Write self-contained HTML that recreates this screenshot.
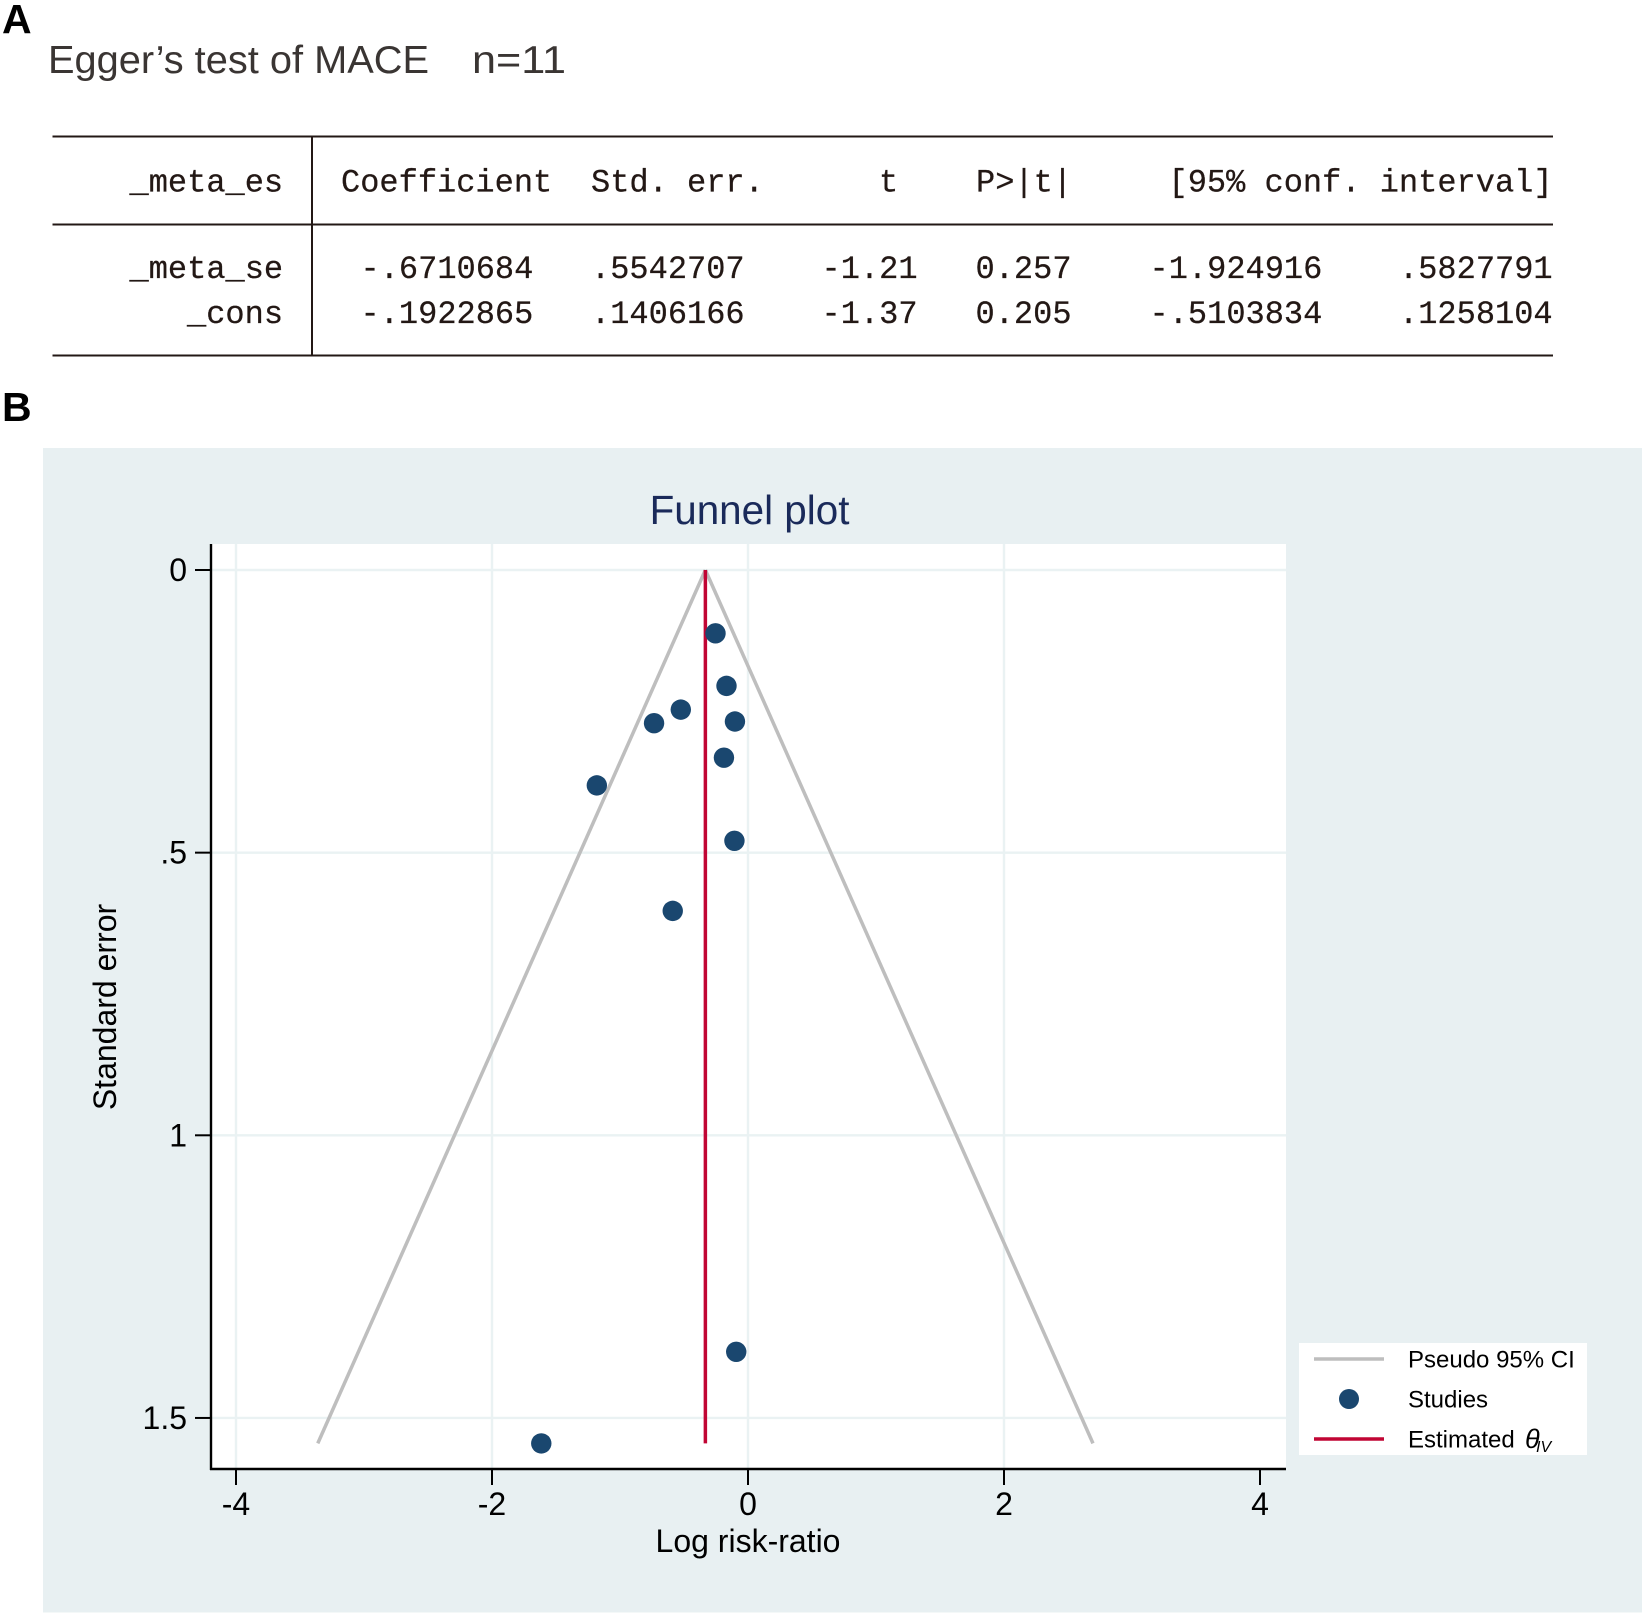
<!DOCTYPE html>
<html lang="en">
<head>
<meta charset="utf-8">
<title>Egger's test and funnel plot</title>
<style>
html,body{margin:0;padding:0;background:#fff;width:1646px;height:1616px;overflow:hidden}
svg{display:block}
.sans{font-family:"Liberation Sans",sans-serif}
.mono{font-family:"Liberation Mono",monospace;font-size:32px;fill:#231815;stroke:#231815;stroke-width:0.25}
</style>
</head>
<body>
<svg id="figure" xmlns="http://www.w3.org/2000/svg" width="1646" height="1616" viewBox="0 0 1646 1616">
  <rect x="0" y="0" width="1646" height="1616" fill="#ffffff"/>
  <text class="sans" x="2" y="33" font-size="41" font-weight="700" fill="#000">A</text>
  <text class="sans" x="48" y="73" font-size="39" fill="#3a3533" textLength="381" lengthAdjust="spacingAndGlyphs">Egger’s test of MACE</text>
  <text class="sans" x="472" y="73" font-size="39" fill="#3a3533" textLength="94" lengthAdjust="spacingAndGlyphs">n=11</text>

  <g stroke="#231815" stroke-width="2">
    <line x1="52.5" y1="136.5" x2="1553" y2="136.5"/>
    <line x1="52.5" y1="224.5" x2="1553" y2="224.5"/>
    <line x1="52.5" y1="355.5" x2="1553" y2="355.5"/>
    <line x1="312" y1="136" x2="312" y2="355"/>
  </g>
  <g class="mono">
    <text x="129.5" y="191.5">_meta_es</text>
    <text x="341" y="191.5">Coefficient</text>
    <text x="591" y="191.5">Std. err.</text>
    <text x="879" y="191.5">t</text>
    <text x="976" y="191.5">P&gt;|t|</text>
    <text x="1168.5" y="191.5">[95% conf. interval]</text>

    <text x="129.5" y="278">_meta_se</text>
    <text x="360.5" y="278">-.6710684</text>
    <text x="591" y="278">.5542707</text>
    <text x="821.5" y="278">-1.21</text>
    <text x="975.5" y="278">0.257</text>
    <text x="1149.5" y="278">-1.924916</text>
    <text x="1399" y="278">.5827791</text>

    <text x="187" y="323">_cons</text>
    <text x="360.5" y="323">-.1922865</text>
    <text x="591" y="323">.1406166</text>
    <text x="821.5" y="323">-1.37</text>
    <text x="975.5" y="323">0.205</text>
    <text x="1149.5" y="323">-.5103834</text>
    <text x="1399" y="323">.1258104</text>
  </g>

  <text class="sans" x="2" y="421" font-size="41" font-weight="700" fill="#000">B</text>

  <rect x="43" y="448" width="1599" height="1164.5" fill="#e8f0f2"/>
  <rect x="211" y="544" width="1075" height="925" fill="#ffffff"/>
  <text class="sans" x="749.5" y="524" font-size="40.4" fill="#1a2a5a" text-anchor="middle">Funnel plot</text>

  <g id="grid"></g>
  <g id="funnel"></g>
  <g id="points"></g>
  <g id="axes">
    <line x1="211" y1="544" x2="211" y2="1470" stroke="#000" stroke-width="2.4"/>
    <line x1="210" y1="1469" x2="1286" y2="1469" stroke="#000" stroke-width="2.4"/>
  </g>
  <text class="sans" x="748" y="1552" font-size="32" fill="#000" text-anchor="middle">Log risk-ratio</text>
  <text class="sans" transform="translate(116 1007) rotate(-90)" font-size="32" fill="#000" text-anchor="middle">Standard error</text>

  <g>
    <rect x="1299" y="1343" width="288" height="112" fill="#ffffff"/>
    <line x1="1314" y1="1359" x2="1384" y2="1359" stroke="#bebebe" stroke-width="3.5"/>
    <text class="sans" x="1408" y="1367.5" font-size="24" fill="#000">Pseudo 95% CI</text>
    <circle cx="1349" cy="1399" r="10" fill="#1a476f"/>
    <text class="sans" x="1408" y="1407.5" font-size="24" fill="#000">Studies</text>
    <line x1="1314" y1="1439" x2="1384" y2="1439" stroke="#c10534" stroke-width="3.5"/>
    <text class="sans" x="1408" y="1447.5" font-size="24" fill="#000">Estimated</text>
    <text class="sans" font-style="italic" x="1525" y="1448" font-size="27" fill="#000">θ</text>
    <text class="sans" font-style="italic" x="1536" y="1452" font-size="16" fill="#000">IV</text>
  </g>
</svg>

<script>
const seValues = [0.112, 0.205, 0.247, 0.271, 0.268, 0.332, 0.381, 0.479, 0.603, 1.383, 1.545];
const logRiskRatios = [-0.254, -0.168, -0.525, -0.734, -0.102, -0.188, -1.181, -0.106, -0.588, -0.092, -1.615];
const xTickValues = [-4, -2, 0, 2, 4];
const xTickLabels = ['-4', '-2', '0', '2', '4'];
const xGridValues = [-4, -2, 0, 2];
const yTickValues = [0, 0.5, 1, 1.5];
const yTickLabels = ['0', '.5', '1', '1.5'];
const thetaIV = -0.333;
const funnelSE = [0, 1.545];
const zCritical = [1.96];

const SVGNS = 'http://www.w3.org/2000/svg';
function xScale(v) { return 748 + v * 128; }
function yScale(v) { return 570 + v * 565.3; }
function make(tag, parent, attrs) {
  const el = document.createElementNS(SVGNS, tag);
  for (const k in attrs) el.setAttribute(k, attrs[k]);
  parent.appendChild(el);
  return el;
}

const gridG = document.getElementById('grid');
const axesG = document.getElementById('axes');
const funnelG = document.getElementById('funnel');
const pointsG = document.getElementById('points');

xGridValues.forEach(function (v) {
  const x = xScale(v);
  const g = make('line', gridG, { x1: x, y1: 544, x2: x, y2: 1469, stroke: '#eaf2f3', 'stroke-width': 2.4 });
  
  
});

xTickValues.forEach(function (v, i) {
  const x = xScale(v);
  const t = make('line', axesG, { x1: x, y1: 1469, x2: x, y2: 1485, stroke: '#000', 'stroke-width': 2 });
  
  
  const l = make('text', axesG, { x: x, y: 1515, 'font-size': 32, fill: '#000', 'text-anchor': 'middle', class: 'sans' });
  
  
  l.textContent = xTickLabels[i];
});

yTickValues.forEach(function (v, i) {
  const y = yScale(v);
  const g = make('line', gridG, { x1: 211, y1: y, x2: 1286, y2: y, stroke: '#eaf2f3', 'stroke-width': 2.4 });
  
  
  const t = make('line', axesG, { x1: 195, y1: y, x2: 211, y2: y, stroke: '#000', 'stroke-width': 2 });
  
  
  const l = make('text', axesG, { x: 187, y: y + 11, 'font-size': 32, fill: '#000', 'text-anchor': 'end', class: 'sans' });
  
  
  l.textContent = yTickLabels[i];
});

[-1, 1].forEach(function (sign) {
  const line = make('line', funnelG, {
    x1: xScale(thetaIV + sign * zCritical[0] * funnelSE[0]), y1: yScale(funnelSE[0]),
    x2: xScale(thetaIV + sign * zCritical[0] * funnelSE[1]), y2: yScale(funnelSE[1]),
    stroke: '#bebebe', 'stroke-width': 3.5
  });
  
  
});

const estimate = make('line', funnelG, {
  x1: xScale(thetaIV), y1: yScale(funnelSE[0]),
  x2: xScale(thetaIV), y2: yScale(funnelSE[1]),
  stroke: '#c10534', 'stroke-width': 3.5
});



seValues.forEach(function (se, i) {
  const c = make('circle', pointsG, { cx: xScale(logRiskRatios[i]), cy: yScale(se), r: 10.2, fill: '#1a476f' });
  
  
});
</script>
</body>
</html>
